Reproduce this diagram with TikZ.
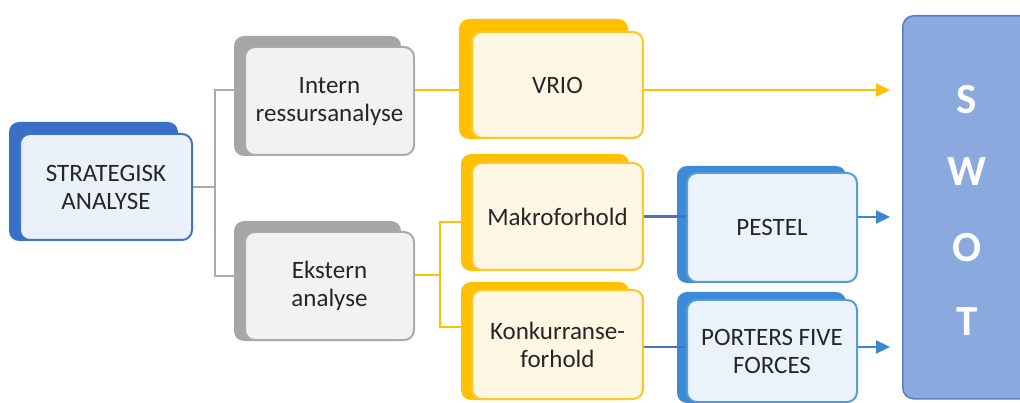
\documentclass[tikz,border=0pt]{standalone}
\usepackage{fontspec}
\setmainfont{Carlito}
\usetikzlibrary{arrows.meta,calc}
\pgfdeclarelayer{background}
\pgfsetlayers{background,main}

\definecolor{bluedark}{HTML}{3A6FC8}
\definecolor{blueline}{HTML}{4472C4}
\definecolor{bluefill}{HTML}{EBF1FA}
\definecolor{skyback}{HTML}{3D8BD6}
\definecolor{skyline}{HTML}{5B9BD5}
\definecolor{skyfill}{HTML}{EAF2FB}
\definecolor{greyback}{HTML}{A6A6A6}
\definecolor{greyline}{HTML}{ABABAB}
\definecolor{greyfill}{HTML}{F2F2F2}
\definecolor{goldback}{HTML}{FFC000}
\definecolor{goldline}{HTML}{FFC62A}
\definecolor{goldfill}{HTML}{FFF7E3}
\definecolor{swotfill}{HTML}{8AA9DF}
\definecolor{swotline}{HTML}{5C7EC0}
\definecolor{arrowblue}{HTML}{3A87CC}
\definecolor{txt}{HTML}{262626}

% back card behind a node: left offset, top offset, right offset
\newcommand{\cardback}[5]{%
  \begin{pgfonlayer}{background}
    \fill[#2, rounded corners=10pt]
      ([shift={(-#3,#4)}]#1.north west) rectangle ([shift={(-#5,0)}]#1.south east);
  \end{pgfonlayer}}

\begin{document}
\begin{tikzpicture}[x=1pt, y=-1pt,
  card/.style={draw, line width=2pt, rounded corners=10pt, align=center,
    text=txt, font=\fontsize{25}{28}\selectfont, inner sep=0pt},
  bluecard/.style={card, draw=blueline, fill=bluefill},
  skycard/.style={card, draw=skyline, fill=skyfill},
  greycard/.style={card, draw=greyline, fill=greyfill},
  goldcard/.style={card, draw=goldline, fill=goldfill},
  link/.style={line width=2.3pt},
  tip/.style={-{Triangle[length=14pt,width=13pt]}}]

\useasboundingbox (0,0) rectangle (1020,403);

% SWOT column
\node[draw=swotline, fill=swotfill, line width=1.6pt, rounded corners=11pt,
  minimum width=140pt, minimum height=383pt, inner sep=0pt, anchor=north west]
  (swot) at (902,15) {};
\foreach \l/\y in {S/100, W/172, O/248, T/322}
  \node[text=white, font=\fontsize{43}{45}\selectfont\bfseries] (swot\l) at (967,\y) {\l};

% cards
\node[bluecard, minimum width=172pt, minimum height=106pt] (sa) at (106,187) {STRATEGISK\\ANALYSE};
\node[greycard, minimum width=169pt, minimum height=108pt] (ir) at (329.5,101) {Intern\\ressursanalyse};
\node[greycard, minimum width=169pt, minimum height=108pt] (ek) at (329.5,286) {Ekstern\\analyse};
\node[goldcard, minimum width=171pt, minimum height=106pt] (vr) at (557.5,85) {VRIO};
\node[goldcard, minimum width=171pt, minimum height=107pt] (mk) at (557.5,216.5) {Makroforhold};
\node[goldcard, minimum width=171pt, minimum height=109pt] (ko) at (557.5,344.5) {Konkurranse-\\forhold};
\node[skycard, minimum width=170pt, minimum height=109pt] (pe) at (772,227.5) {PESTEL};
\node[skycard, minimum width=170pt, minimum height=102pt] (po) at (772,351) {PORTERS FIVE\\FORCES};

% back cards
\cardback{sa}{bluedark}{10pt}{11pt}{15pt}
\cardback{ir}{greyback}{10pt}{10pt}{14pt}
\cardback{ek}{greyback}{10pt}{10pt}{14pt}
\cardback{vr}{goldback}{12pt}{12pt}{16pt}
\cardback{mk}{goldback}{10pt}{8pt}{15pt}
\cardback{ko}{goldback}{10pt}{7pt}{15pt}
\cardback{pe}{skyback}{9pt}{6pt}{12pt}
\cardback{po}{skyback}{9pt}{7pt}{12pt}

% connectors
\begin{pgfonlayer}{background}
\draw[link, greyline] (sa.east) -- ++(22,0) coordinate (sab);
\draw[link, greyline] (sab) |- ([yshift=11pt]ir.west);
\draw[link, greyline] (sab) |- ([yshift=10pt]ek.west);
\draw[link, goldback] ([yshift=11pt]ir.east) -- ([yshift=-5pt]vr.west);
\draw[link, goldback] ([yshift=11pt]ek.east) -- ++(25,0) coordinate (ekb);
\draw[link, goldback] (ekb) |- ([yshift=-5.5pt]mk.west);
\draw[link, goldback] (ekb) |- ([yshift=17.5pt]ko.west);
\draw[link, blueline] (mk.east) -- (pe.west |- mk.east);
\draw[link, blueline] ([yshift=-2.5pt]ko.east) -- ([yshift=4pt]po.west);
\end{pgfonlayer}
\draw[link, goldback, tip] ([yshift=-5pt]vr.east) -- ([shift={(-12pt,0)}]swot.west |- {0,90});
\draw[link, arrowblue, tip] ([yshift=10.5pt]pe.east) -- ([shift={(-12pt,0)}]swot.west |- {0,217});
\draw[link, arrowblue, tip] ([yshift=4pt]po.east) -- ([shift={(-12pt,0)}]swot.west |- {0,347});
\end{tikzpicture}
\end{document}
